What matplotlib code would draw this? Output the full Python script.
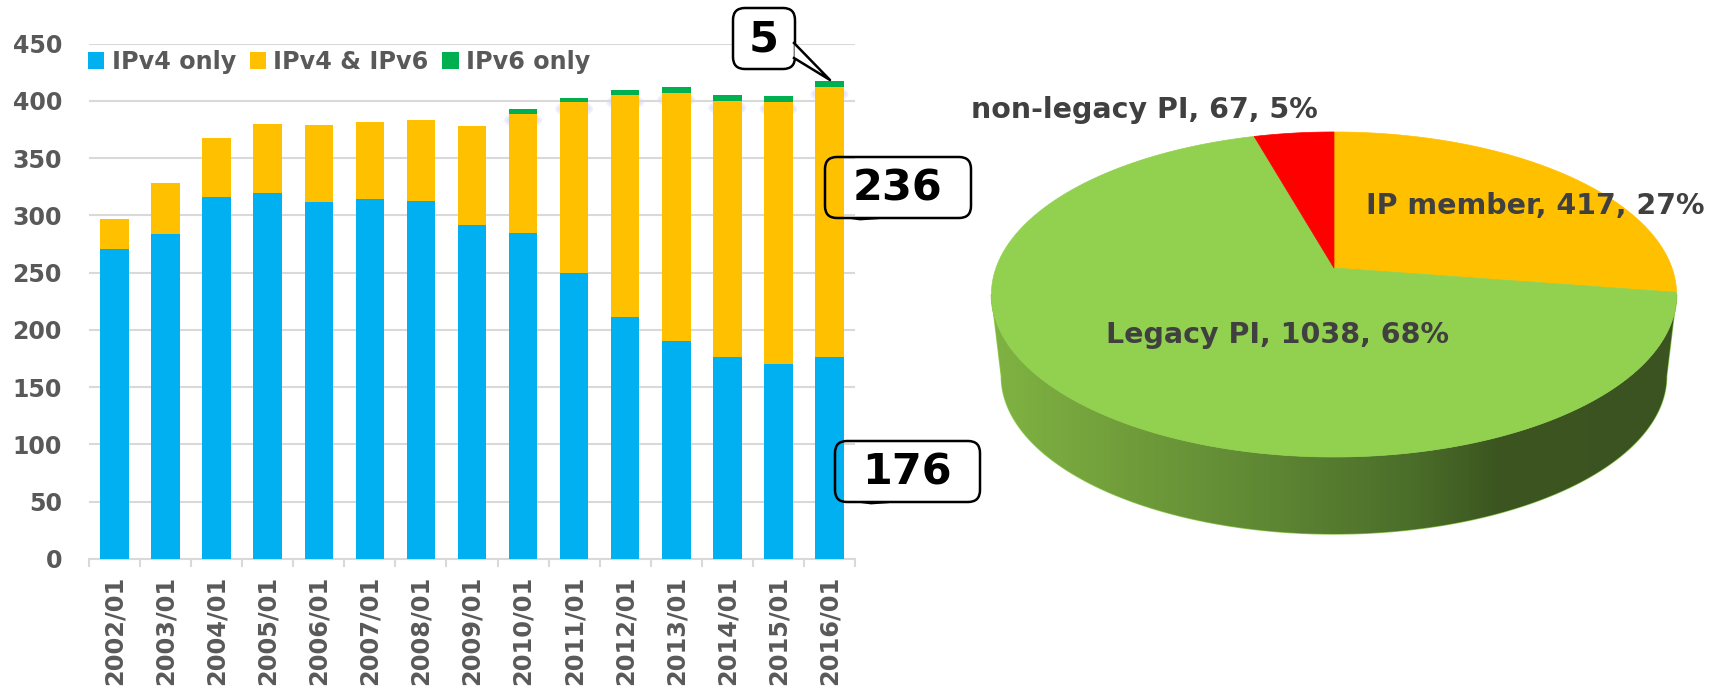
import numpy as np
from matplotlib import pyplot as plt
from matplotlib.colors import LinearSegmentedColormap
from matplotlib.patches import Ellipse, FancyBboxPatch, Polygon

years = ['2002/01', '2003/01', '2004/01', '2005/01', '2006/01', '2007/01', '2008/01', '2009/01',
         '2010/01', '2011/01', '2012/01', '2013/01', '2014/01', '2015/01', '2016/01']
v4_only = [271, 284, 316, 320, 312, 314, 313, 292, 285, 250, 211, 190, 176, 170, 176]
v4_v6 = [26, 44, 52, 60, 67, 68, 70, 86, 104, 149, 194, 217, 224, 229, 236]
v6_only = [0, 0, 0, 0, 0, 0, 0, 0, 4, 4, 5, 5, 5, 5, 5]

pie_names = ['IP member', 'Legacy PI', 'non-legacy PI']
pie_values = [417, 1038, 67]
pie_percent = [27, 68, 5]
pie_colors = ['#FFC000', '#92D050', '#FF0000']

W, H = 1727, 689
plt.rcParams['font.family'] = 'DejaVu Sans'
plt.rcParams['font.weight'] = 'bold'
fig = plt.figure(figsize=(W / 100, H / 100), dpi=100)

# bar chart
ax = fig.add_axes([89 / W, 1 - 559 / H, (855 - 89) / W, (559 - 43.7) / H])
x = np.arange(len(years))
v4_only = np.array(v4_only)
v4_v6 = np.array(v4_v6)
v6_only = np.array(v6_only)
ax.bar(x, v4_only, width=0.56, color='#00B0F0', label='IPv4 only', zorder=3)
ax.bar(x, v4_v6, width=0.56, bottom=v4_only, color='#FFC000', label='IPv4 & IPv6', zorder=3)
ax.bar(x, v6_only, width=0.56, bottom=v4_only + v4_v6, color='#00B050', label='IPv6 only', zorder=3)

# faint blue halo behind the later bars, just under the yellow top
for xi, top in zip(x[8:], (v4_only + v4_v6)[8:]):
    ax.add_patch(Ellipse((xi, top - 6), 0.74, 14, fc='#D5D9F7', ec='none', alpha=0.4, zorder=2))
    ax.add_patch(Ellipse((xi, top - 6), 0.65, 9, fc='#D5D9F7', ec='none', alpha=0.45, zorder=2))

ax.set_xlim(-0.5, len(years) - 0.5)
ax.set_ylim(0, 450)
ax.set_yticks(range(0, 451, 50))
ax.set_xticks(x)
ax.set_xticklabels(years, rotation=90)
ax.set_xticks(np.arange(len(years) + 1) - 0.5, minor=True)
ax.tick_params(axis='x', which='major', length=0, pad=12, labelsize=17.4, labelcolor='#595959')
ax.tick_params(axis='x', which='minor', length=6, width=1.5, color='#D9D9D9')
ax.tick_params(axis='y', length=0, pad=19.5, labelsize=17, labelcolor='#595959')
ax.grid(axis='y', color='#D9D9D9', lw=1.5, zorder=0)
ax.set_axisbelow(True)
for s in ['top', 'left', 'right']:
    ax.spines[s].set_visible(False)
ax.spines['bottom'].set_color('#D9D9D9')
ax.spines['bottom'].set_linewidth(1.5)

ax.legend(loc='upper left', bbox_to_anchor=(-0.001, 0.988), ncol=3, frameon=False, fontsize=17.2,
          labelcolor='#595959', handlelength=0.68, handleheight=0.72, handletextpad=0.3,
          columnspacing=0.58, borderaxespad=0, borderpad=0)

# overlay in image pixels for pie and callouts
ov = fig.add_axes([0, 0, 1, 1], facecolor='none')
ov.axis('off')


def project(t, cy=268.0, scale=1.0):
    # circle seen in perspective, far side squeezed
    k = 0.163
    u, v = np.cos(t), np.sin(t)
    w = 1 + k * v
    return 1334 + scale * 338 * u / w, cy - scale * 158.2 * v / w


# side wall with a left to right shading
ts = np.radians(np.linspace(189.4, 350.6, 200))
xa, ya = project(ts)
xb, yb = project(ts, cy=350.5, scale=0.971)
side = Polygon(np.r_[np.c_[xa, ya], np.c_[xb, yb][::-1]], closed=True, fc='none', ec='#92D050', lw=1, zorder=2)
ov.add_patch(side)
shade = LinearSegmentedColormap.from_list('side', [(0, '#80B443'), (0.16, '#74A23C'), (0.38, '#618A35'),
                                                   (0.62, '#4A6D29'), (0.74, '#3C5520'), (1, '#3A5320')])
img = ov.imshow(np.linspace(0, 1, 400).reshape(1, -1), cmap=shade, extent=(985, 1680, 535, 285),
                aspect='auto', zorder=2)
img.set_clip_path(side)

# slices clockwise from the top
start = 90.0
total = sum(pie_values)
for val, col in zip(pie_values, pie_colors):
    end = start - 360.0 * val / total
    t = np.radians(np.linspace(start, end, 200))
    px, py = project(t)
    ov.add_patch(Polygon(np.r_[[[1334, 268]], np.c_[px, py]], closed=True, fc=col, ec=col, lw=0.5, zorder=3))
    start = end

pie_pos = [(1366, 214), (1106, 343), (971, 118)]
for name, val, pct, (tx, ty) in zip(pie_names, pie_values, pie_percent, pie_pos):
    ov.text(tx, ty, f'{name}, {val}, {pct}%', fontsize=20.5, color='#404040', ha='left', va='baseline', zorder=5)


# callouts
def callout(x0, y0, x1, y1, text, fs, fill):
    ov.add_patch(FancyBboxPatch((x0 + 10, y0 + 10), x1 - x0 - 20, y1 - y0 - 20, boxstyle='round,pad=10,rounding_size=12',
                                fc=fill, ec='black', lw=1.8, zorder=6))
    ov.text((x0 + x1) / 2, (y0 + y1) / 2 + 1, text, fontsize=fs, color='black', ha='center', va='center', zorder=8)


callout(733, 8, 795, 69, '5', 31, 'white')
ov.add_patch(Polygon([(794.5, 43), (830, 80), (794.5, 58)], closed=True, fc='white', ec='none', zorder=7))
ov.plot([794, 830, 794], [43, 80, 58], color='black', lw=1.8, zorder=7)
callout(825, 157, 971, 218, '236', 31, 'none')
ov.plot([850, 860, 878], [218, 219.5, 218.3], color='black', lw=1.3, zorder=7)
callout(835, 441, 980, 502, '176', 31, 'none')
ov.plot([860, 871, 888], [502, 503.5, 502.3], color='black', lw=1.3, zorder=7)

ov.set_xlim(0, W)
ov.set_ylim(H, 0)

plt.savefig('out.png', dpi=100)
